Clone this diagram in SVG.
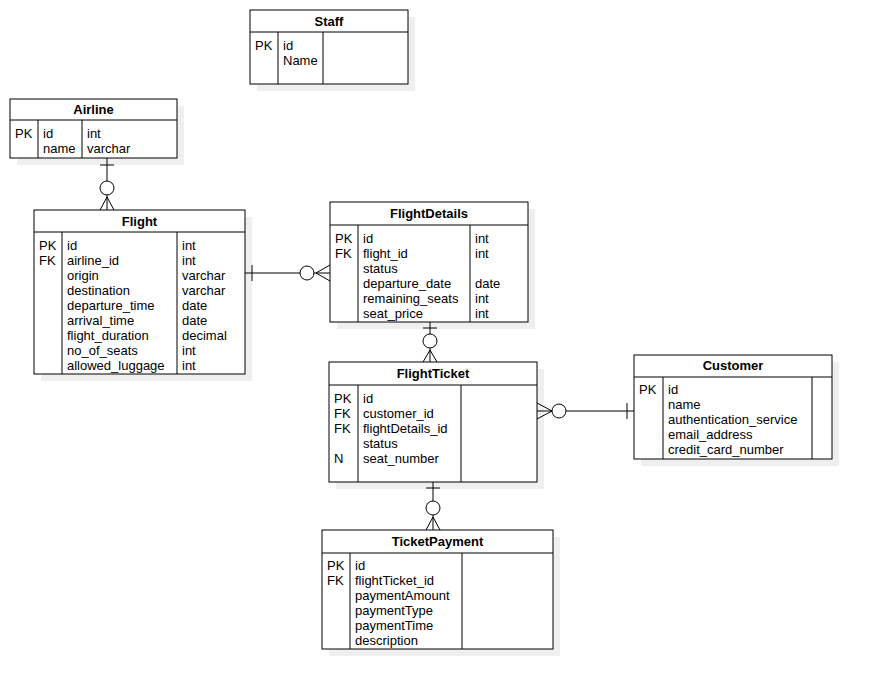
<svg xmlns="http://www.w3.org/2000/svg" width="871" height="690" viewBox="0 0 871 690">
  <style>
    text { font-family: "Liberation Sans", Arial, sans-serif; font-size: 13px; fill: #000; }
    .title { font-weight: bold; text-anchor: middle; }
    .shadow { fill: #efefef; stroke: none; }
    .box { fill: #fff; stroke: #000; stroke-width: 1; }
    .ln { fill: none; stroke: #000; stroke-width: 1; }
    .circ { fill: #fff; stroke: #000; stroke-width: 1; }
  </style>
  <rect width="871" height="690" fill="#fff"/>

  <!-- Staff -->
  <g id="staff">
    <rect class="shadow" x="257" y="17" width="158" height="74"/>
    <rect class="box" x="250" y="10" width="158" height="74"/>
    <path class="ln" d="M250 32H408M278 32V84M323 32V84"/>
    <text class="title" x="329" y="26">Staff</text>
    <text x="255" y="50">PK</text>
    <text x="283" y="50">id</text>
    <text x="283" y="65">Name</text>
  </g>

  <!-- Airline -->
  <g id="airline">
    <rect class="shadow" x="17" y="106" width="167" height="59"/>
    <rect class="box" x="10" y="99" width="167" height="59"/>
    <path class="ln" d="M10 120H177M38 120V158M82 120V158"/>
    <text class="title" x="93.5" y="114">Airline</text>
    <text x="15" y="138">PK</text>
    <text x="43" y="138">id</text>
    <text x="43" y="153">name</text>
    <text x="87" y="138">int</text>
    <text x="87" y="153">varchar</text>
  </g>

  <!-- Flight -->
  <g id="flight">
    <rect class="shadow" x="41" y="217" width="211" height="164"/>
    <rect class="box" x="34" y="210" width="211" height="164"/>
    <path class="ln" d="M34 232H245M62 232V374M177 232V374"/>
    <text class="title" x="139.5" y="226">Flight</text>
    <text x="39" y="250">PK</text>
    <text x="39" y="265">FK</text>
    <text x="67" y="250">id</text>
    <text x="67" y="265">airline_id</text>
    <text x="67" y="280">origin</text>
    <text x="67" y="295">destination</text>
    <text x="67" y="310">departure_time</text>
    <text x="67" y="325">arrival_time</text>
    <text x="67" y="340">flight_duration</text>
    <text x="67" y="355">no_of_seats</text>
    <text x="67" y="370">allowed_luggage</text>
    <text x="182" y="250">int</text>
    <text x="182" y="265">int</text>
    <text x="182" y="280">varchar</text>
    <text x="182" y="295">varchar</text>
    <text x="182" y="310">date</text>
    <text x="182" y="325">date</text>
    <text x="182" y="340">decimal</text>
    <text x="182" y="355">int</text>
    <text x="182" y="370">int</text>
  </g>

  <!-- FlightDetails -->
  <g id="flightdetails">
    <rect class="shadow" x="337" y="209" width="198" height="120"/>
    <rect class="box" x="330" y="202" width="198" height="120"/>
    <path class="ln" d="M330 225H528M358 225V322M470 225V322"/>
    <text class="title" x="429" y="218">FlightDetails</text>
    <text x="335" y="243">PK</text>
    <text x="335" y="258">FK</text>
    <text x="363" y="243">id</text>
    <text x="363" y="258">flight_id</text>
    <text x="363" y="273">status</text>
    <text x="363" y="288">departure_date</text>
    <text x="363" y="303">remaining_seats</text>
    <text x="363" y="318">seat_price</text>
    <text x="475" y="243">int</text>
    <text x="475" y="258">int</text>
    <text x="475" y="288">date</text>
    <text x="475" y="303">int</text>
    <text x="475" y="318">int</text>
  </g>

  <!-- FlightTicket -->
  <g id="flightticket">
    <rect class="shadow" x="336" y="369" width="208" height="120"/>
    <rect class="box" x="329" y="362" width="208" height="120"/>
    <path class="ln" d="M329 385H537M358 385V482M461 385V482"/>
    <text class="title" x="433" y="378">FlightTicket</text>
    <text x="334" y="403">PK</text>
    <text x="334" y="418">FK</text>
    <text x="334" y="433">FK</text>
    <text x="334" y="463">N</text>
    <text x="363" y="403">id</text>
    <text x="363" y="418">customer_id</text>
    <text x="363" y="433">flightDetails_id</text>
    <text x="363" y="448">status</text>
    <text x="363" y="463">seat_number</text>
  </g>

  <!-- Customer -->
  <g id="customer">
    <rect class="shadow" x="641" y="362" width="198" height="104"/>
    <rect class="box" x="634" y="355" width="198" height="104"/>
    <path class="ln" d="M634 377H832M663 377V459M812 377V459"/>
    <text class="title" x="733" y="370">Customer</text>
    <text x="639" y="394">PK</text>
    <text x="668" y="394">id</text>
    <text x="668" y="409">name</text>
    <text x="668" y="424">authentication_service</text>
    <text x="668" y="439">email_address</text>
    <text x="668" y="454">credit_card_number</text>
  </g>

  <!-- TicketPayment -->
  <g id="ticketpayment">
    <rect class="shadow" x="329" y="537" width="231" height="119"/>
    <rect class="box" x="322" y="530" width="231" height="119"/>
    <path class="ln" d="M322 553H553M350 553V649M462 553V649"/>
    <text class="title" x="437.5" y="546">TicketPayment</text>
    <text x="327" y="570">PK</text>
    <text x="327" y="585">FK</text>
    <text x="355" y="570">id</text>
    <text x="355" y="585">flightTicket_id</text>
    <text x="355" y="600">paymentAmount</text>
    <text x="355" y="615">paymentType</text>
    <text x="355" y="630">paymentTime</text>
    <text x="355" y="645">description</text>
  </g>

  <!-- Relationships: one (bar) to zero-or-many (circle + crow's foot) -->
  <g id="connectors">
    <!-- Airline 1 — 0..* Flight -->
    <path class="ln" d="M107 158V210M100 165H114M107 197L100 210M107 197L114 210"/>
    <circle class="circ" cx="107" cy="188" r="7"/>

    <!-- Flight 1 — 0..* FlightDetails -->
    <path class="ln" d="M245 273H330M252 265V281M316 273L330 265M316 273L330 281"/>
    <circle class="circ" cx="307" cy="273" r="7"/>

    <!-- FlightDetails 1 — 0..* FlightTicket -->
    <path class="ln" d="M430 322V362M423 328H437M430 350L423 362M430 350L437 362"/>
    <circle class="circ" cx="430" cy="341" r="7"/>

    <!-- Customer 1 — 0..* FlightTicket -->
    <path class="ln" d="M537 411H634M627 403V419M552 411L537 403M552 411L537 419"/>
    <circle class="circ" cx="559" cy="411" r="7"/>

    <!-- FlightTicket 1 — 0..* TicketPayment -->
    <path class="ln" d="M433 482V530M426 488H440M433 517L426 530M433 517L440 530"/>
    <circle class="circ" cx="433" cy="508" r="7"/>
  </g>
</svg>
